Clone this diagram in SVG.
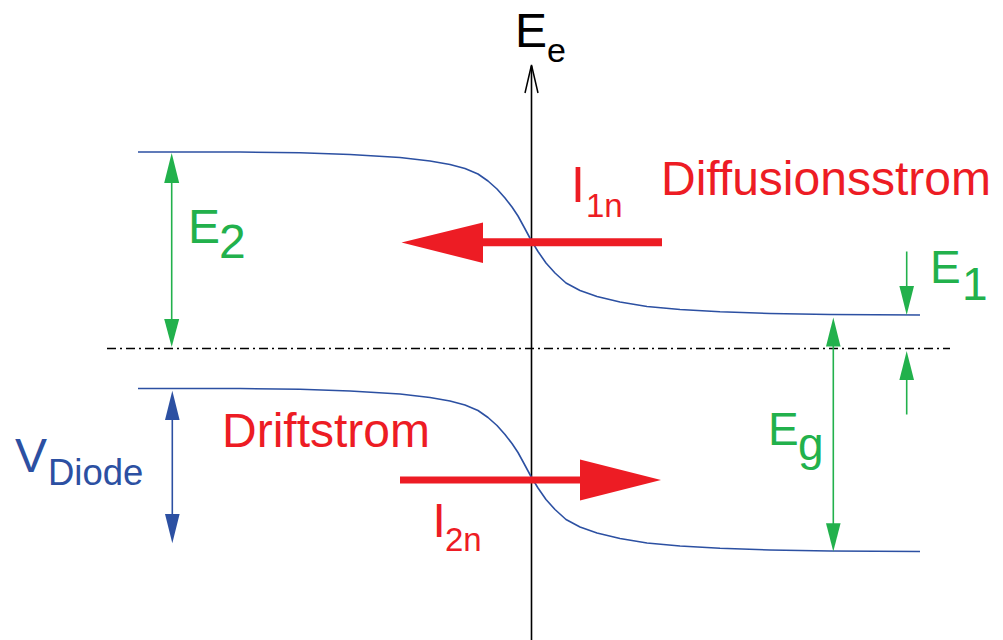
<svg xmlns="http://www.w3.org/2000/svg" width="1003" height="640" viewBox="0 0 1003 640">
<style>
.txt{font-family:"Liberation Sans",Arial,sans-serif}
.blue{fill:#2c50a2}
.green{fill:#22b14c}
.red{fill:#ed1c24}
.band{fill:none;stroke:#2c50a2;stroke-width:1.6;stroke-linejoin:round}
.gline{stroke:#22b14c;stroke-width:1.6;fill:none}
.bline{stroke:#2c50a2;stroke-width:1.6;fill:none}
</style>
<defs>
<path id="curve" d="M138,152 L240,152 L300,152.8 L350,154.5 L400,157.5 L430,161 L450,164.5 L465,168.5 L478,174 L488,181 L497,189 L505,198 L512,207 L518,216 L524,227 L531,240 L538,251.5 L546,263 L555,273 L566,283 L580,290.5 L597,296.5 L620,302 L647,306.5 L680,309.5 L720,311.8 L770,313.5 L830,314.5 L920,315"/>
</defs>
<g id="axis">
<line x1="531.5" y1="66" x2="531.5" y2="640" stroke="#000" stroke-width="1.6"/>
<polyline points="525,93 531.5,65 538,93" fill="none" stroke="#000" stroke-width="1.5"/>
<text class="txt" x="515" y="47" font-size="48">E</text>
<text class="txt" x="547" y="62" font-size="34">e</text>
</g>
<g id="fermi-level">
<line x1="107" y1="348.5" x2="950" y2="348.5" stroke="#000" stroke-width="1.5" stroke-dasharray="9,4,2,4"/>
</g>
<g id="conduction-band">
<use href="#curve" class="band"/>
</g>
<g id="valence-band">
<use href="#curve" class="band" transform="translate(0,236.5)"/>
</g>
<g id="connectors">
<g id="E2-arrow">
<line class="gline" x1="171.7" y1="170" x2="171.7" y2="330"/>
<polygon class="green" points="171.7,153 164.2,183 179.2,183"/>
<polygon class="green" points="171.7,347 164.2,319 179.2,319"/>
</g>
<g id="E1-arrows">
<line class="gline" x1="906.7" y1="251.5" x2="906.7" y2="295"/>
<polygon class="green" points="906.7,315 899.4,286 914,286"/>
<line class="gline" x1="906.7" y1="370" x2="906.7" y2="414.5"/>
<polygon class="green" points="906.7,351 899.4,380 914,380"/>
</g>
<g id="Eg-arrow">
<line class="gline" x1="833.3" y1="335" x2="833.3" y2="535"/>
<polygon class="green" points="833.3,317.5 826,346.5 840.6,346.5"/>
<polygon class="green" points="833.3,551.5 826,523.3 840.6,523.3"/>
</g>
<g id="VDiode-arrow">
<line class="bline" x1="172.3" y1="405" x2="172.3" y2="530"/>
<polygon class="blue" points="172.3,390.7 165,420 179.6,420"/>
<polygon class="blue" points="172.3,543.3 165,514 179.6,514"/>
</g>
<g id="I1n-arrow">
<polygon class="red" points="662,238.2 483,238.2 483,222.5 401.5,242.5 483,263 483,246.2 662,246.2"/>
</g>
<g id="I2n-arrow">
<polygon class="red" points="400,476.5 580,476.5 580,459.5 661,480 580,500.5 580,483.5 400,483.5"/>
</g>
</g>
<g id="label-E2">
<text class="txt green" x="188" y="243" font-size="48">E</text>
<text class="txt green" x="219" y="258" font-size="48">2</text>
</g>
<g id="label-E1">
<text class="txt green" x="930" y="283" font-size="46">E</text>
<text class="txt green" x="962" y="300" font-size="46">1</text>
</g>
<g id="label-Eg">
<text class="txt green" x="768" y="445" font-size="46">E</text>
<text class="txt green" x="798" y="460" font-size="46">g</text>
</g>
<g id="label-VDiode">
<text class="txt blue" x="15" y="471.7" font-size="48">V</text>
<text class="txt blue" x="48" y="485" font-size="36.5">Diode</text>
</g>
<g id="label-I1n">
<text class="txt red" x="571" y="201.7" font-size="50">I</text>
<text class="txt red" x="586" y="217" font-size="33">1n</text>
</g>
<g id="label-I2n">
<text class="txt red" x="432.5" y="536.7" font-size="48">I</text>
<text class="txt red" x="445" y="550.7" font-size="33">2n</text>
</g>
<g id="label-Diffusionsstrom">
<text class="txt red" x="661" y="194.5" font-size="48">Diffusionsstrom</text>
</g>
<g id="label-Driftstrom">
<text class="txt red" x="222" y="446.7" font-size="48">Driftstrom</text>
</g>
</svg>
